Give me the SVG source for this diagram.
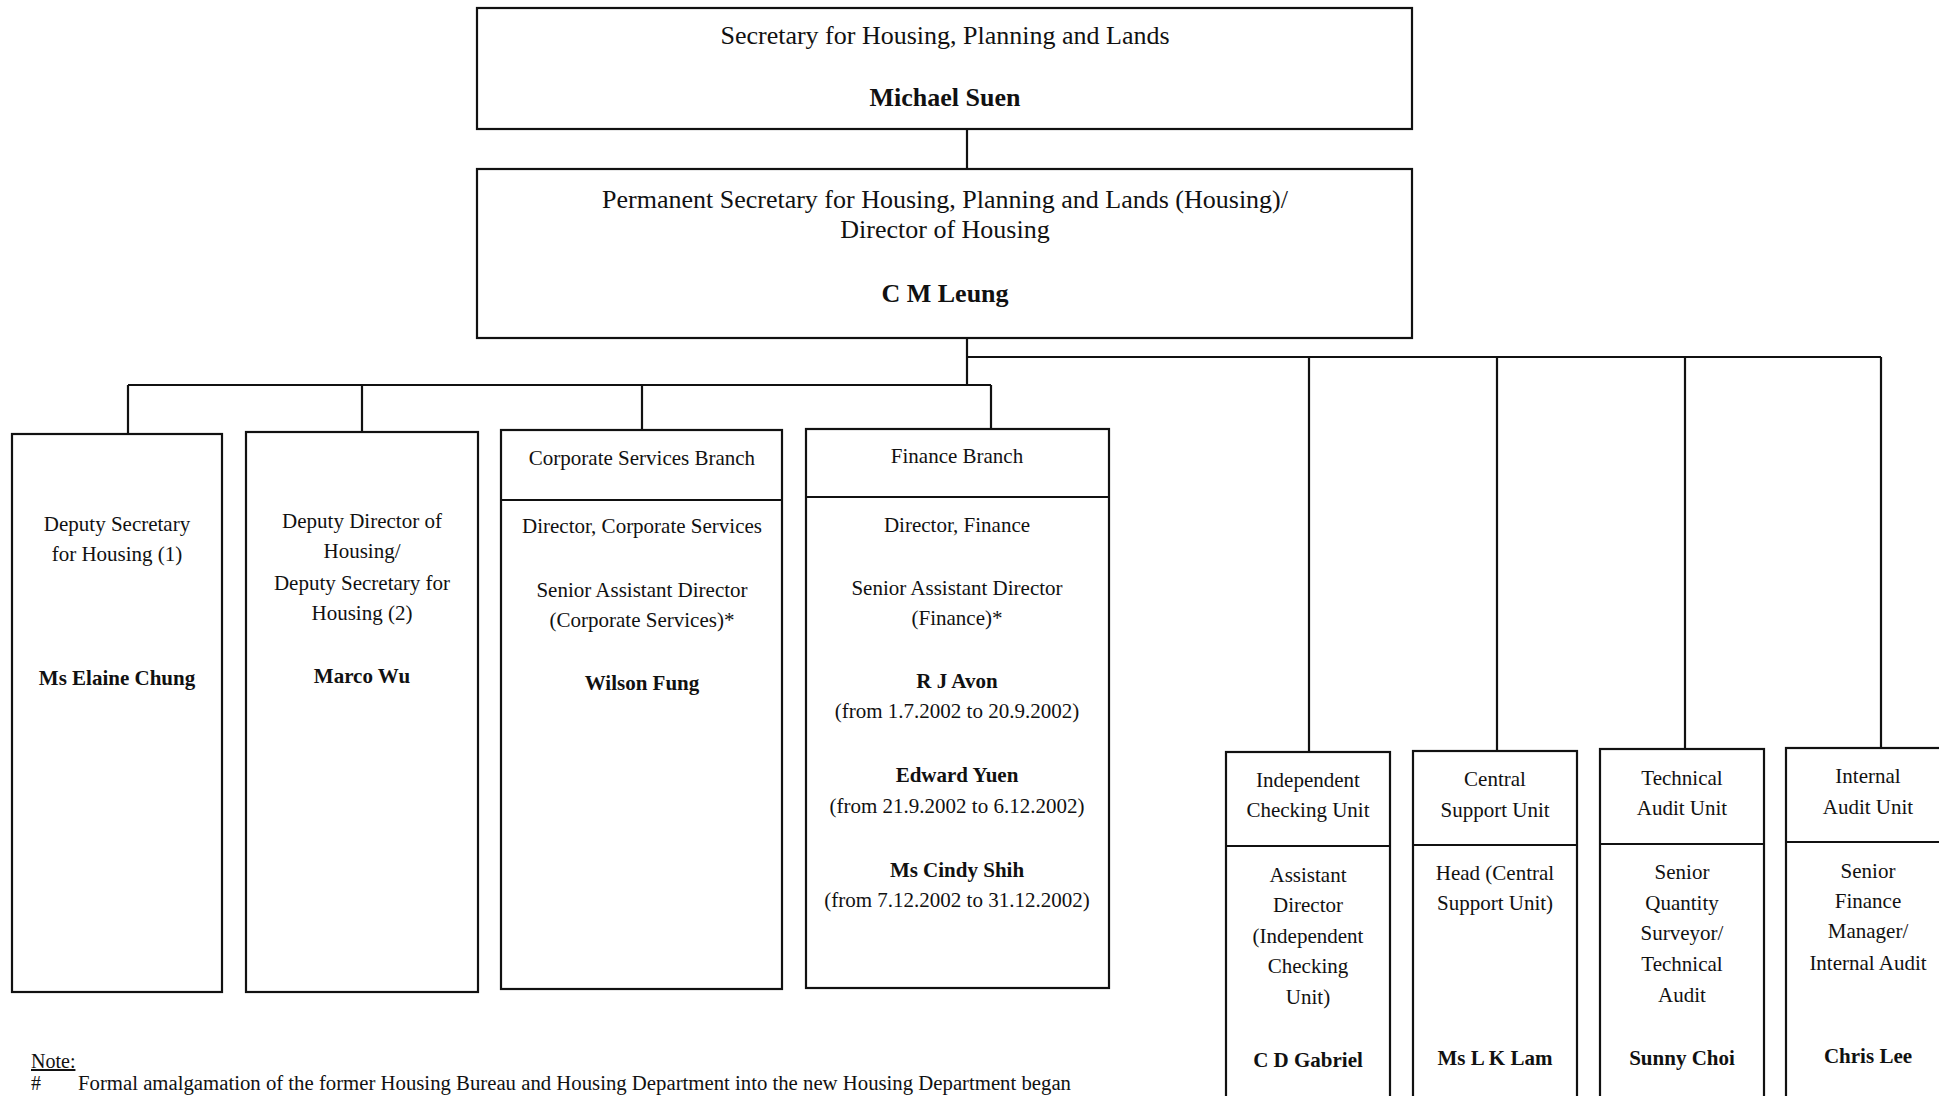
<svg xmlns="http://www.w3.org/2000/svg" width="1939" height="1096" viewBox="0 0 1939 1096">
<style>
.box{fill:#fff;stroke:#111;stroke-width:2.2}
.div{stroke:#111;stroke-width:2.2;fill:none}
.con{stroke:#111;stroke-width:2.2;fill:none}
text{font-family:"Liberation Serif","Times New Roman",serif;fill:#111;text-anchor:middle}
.t{font-size:26px}
.tb{font-size:26px;font-weight:bold}
.s{font-size:21px}
.sb{font-size:21px;font-weight:bold}
.note{font-size:20px;text-anchor:start}
</style>
<rect width="1939" height="1096" fill="#fff"/>
<g id="connectors">
<path class="con" d="M967 129V169"/>
<path class="con" d="M967 338V385"/>
<path class="con" d="M128 385H991"/>
<path class="con" d="M128 385V434M362 385V432M642 385V430M991 385V429"/>
<path class="con" d="M967 357H1881"/>
<path class="con" d="M1309 357V752M1497 357V751M1685 357V749M1881 357V748"/>
</g>
<g id="secretary">
<rect class="box" x="477" y="8" width="935" height="121"/>
<text class="t" x="945" y="44">Secretary for Housing, Planning and Lands</text>
<text class="tb" x="945" y="106">Michael Suen</text>
</g>
<g id="permsec">
<rect class="box" x="477" y="169" width="935" height="169"/>
<text class="t" x="945" y="208">Permanent Secretary for Housing, Planning and Lands (Housing)/</text>
<text class="t" x="945" y="238">Director of Housing</text>
<text class="tb" x="945" y="302">C M Leung</text>
</g>
<g id="dsh1">
<rect class="box" x="12" y="434" width="210" height="558"/>
<text class="s" x="117" y="531">Deputy Secretary</text>
<text class="s" x="117" y="561">for Housing (1)</text>
<text class="sb" x="117" y="685">Ms Elaine Chung</text>
</g>
<g id="ddh">
<rect class="box" x="246" y="432" width="232" height="560"/>
<text class="s" x="362" y="528">Deputy Director of</text>
<text class="s" x="362" y="558">Housing/</text>
<text class="s" x="362" y="590">Deputy Secretary for</text>
<text class="s" x="362" y="620">Housing (2)</text>
<text class="sb" x="362" y="683">Marco Wu</text>
</g>
<g id="corporate">
<rect class="box" x="501" y="430" width="281" height="559"/>
<path class="div" d="M501 500H782"/>
<text class="s" x="642" y="465">Corporate Services Branch</text>
<text class="s" x="642" y="533">Director, Corporate Services</text>
<text class="s" x="642" y="597">Senior Assistant Director</text>
<text class="s" x="642" y="627">(Corporate Services)*</text>
<text class="sb" x="642" y="690">Wilson Fung</text>
</g>
<g id="finance">
<rect class="box" x="806" y="429" width="303" height="559"/>
<path class="div" d="M806 497H1109"/>
<text class="s" x="957" y="463">Finance Branch</text>
<text class="s" x="957" y="532">Director, Finance</text>
<text class="s" x="957" y="595">Senior Assistant Director</text>
<text class="s" x="957" y="625">(Finance)*</text>
<text class="sb" x="957" y="688">R J Avon</text>
<text class="s" x="957" y="718">(from 1.7.2002 to 20.9.2002)</text>
<text class="sb" x="957" y="782">Edward Yuen</text>
<text class="s" x="957" y="813">(from 21.9.2002 to 6.12.2002)</text>
<text class="sb" x="957" y="877">Ms Cindy Shih</text>
<text class="s" x="957" y="907">(from 7.12.2002 to 31.12.2002)</text>
</g>
<g id="icu">
<rect class="box" x="1226" y="752" width="164" height="360"/>
<path class="div" d="M1226 846H1390"/>
<text class="s" x="1308" y="787">Independent</text>
<text class="s" x="1308" y="817">Checking Unit</text>
<text class="s" x="1308" y="882">Assistant</text>
<text class="s" x="1308" y="912">Director</text>
<text class="s" x="1308" y="943">(Independent</text>
<text class="s" x="1308" y="973">Checking</text>
<text class="s" x="1308" y="1004">Unit)</text>
<text class="sb" x="1308" y="1067">C D Gabriel</text>
</g>
<g id="csu">
<rect class="box" x="1413" y="751" width="164" height="360"/>
<path class="div" d="M1413 845H1577"/>
<text class="s" x="1495" y="786">Central</text>
<text class="s" x="1495" y="817">Support Unit</text>
<text class="s" x="1495" y="880">Head (Central</text>
<text class="s" x="1495" y="910">Support Unit)</text>
<text class="sb" x="1495" y="1065">Ms L K Lam</text>
</g>
<g id="tau">
<rect class="box" x="1600" y="749" width="164" height="362"/>
<path class="div" d="M1600 844H1764"/>
<text class="s" x="1682" y="785">Technical</text>
<text class="s" x="1682" y="815">Audit Unit</text>
<text class="s" x="1682" y="879">Senior</text>
<text class="s" x="1682" y="910">Quantity</text>
<text class="s" x="1682" y="940">Surveyor/</text>
<text class="s" x="1682" y="971">Technical</text>
<text class="s" x="1682" y="1002">Audit</text>
<text class="sb" x="1682" y="1065">Sunny Choi</text>
</g>
<g id="iau">
<rect class="box" x="1786" y="748" width="164" height="364"/>
<path class="div" d="M1786 842H1950"/>
<text class="s" x="1868" y="783">Internal</text>
<text class="s" x="1868" y="814">Audit Unit</text>
<text class="s" x="1868" y="878">Senior</text>
<text class="s" x="1868" y="908">Finance</text>
<text class="s" x="1868" y="938">Manager/</text>
<text class="s" x="1868" y="970">Internal Audit</text>
<text class="sb" x="1868" y="1063">Chris Lee</text>
</g>
<g id="note">
<text class="note" x="31" y="1068" text-decoration="underline">Note:</text>
<text class="note" x="31" y="1090">#</text>
<text class="note" x="78" y="1090" textLength="993" lengthAdjust="spacingAndGlyphs">Formal amalgamation of the former Housing Bureau and Housing Department into the new Housing Department began</text>
</g>
</svg>
